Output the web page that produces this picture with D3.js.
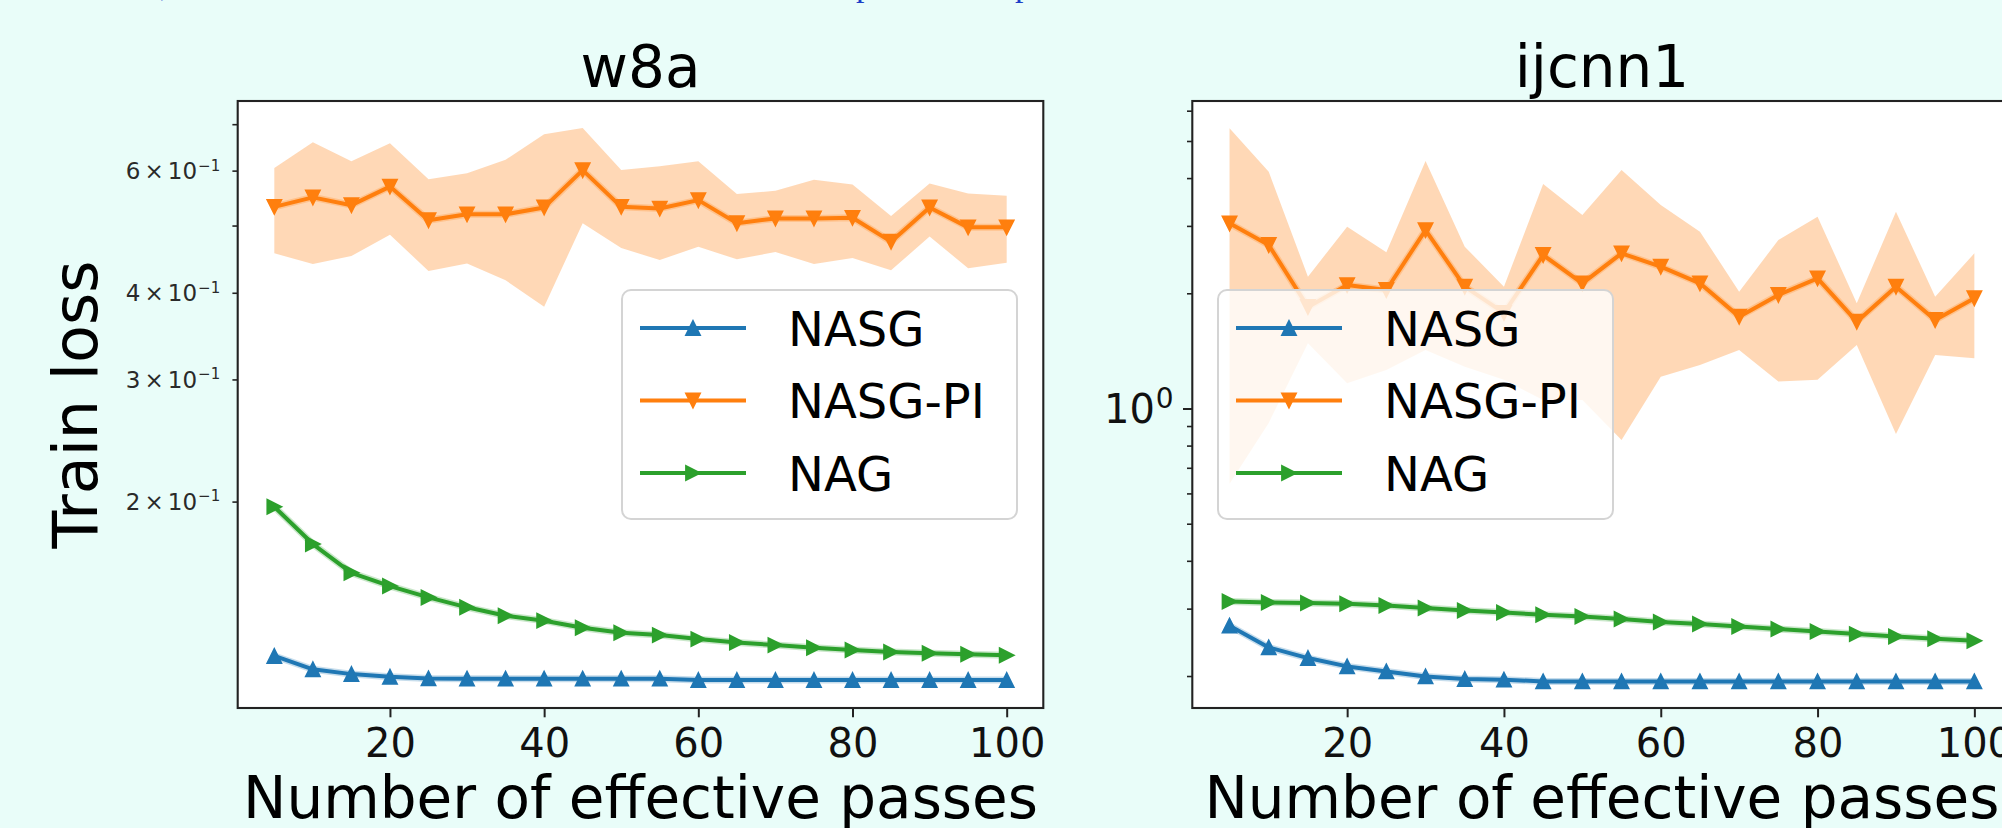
<!DOCTYPE html>
<html>
<head>
<meta charset="utf-8">
<script src="https://cdn.jsdelivr.net/npm/d3@7/dist/d3.min.js"></script>
<style>
  html, body { margin: 0; padding: 0; background: #e9fdf9; overflow: hidden; }
  svg { display: block; font-family: 'DejaVu Sans', sans-serif; }
</style>
</head>
<body>
<div id="vis"></div>
<script>
// x values: number of effective passes
var passes = [5, 10, 15, 20, 25, 30, 35, 40, 45, 50, 55, 60, 65, 70, 75, 80, 85, 90, 95, 100];
var xTicks = [20, 40, 60, 80, 100];
var seriesNames = ['NASG', 'NASG-PI', 'NAG'];

// w8a train loss
var w8aNasg = [0.1198, 0.1146, 0.1128, 0.1118, 0.1112, 0.1111, 0.1111, 0.1111, 0.1111, 0.1111,
  0.1111, 0.1106, 0.1106, 0.1106, 0.1106, 0.1106, 0.1106, 0.1106, 0.1106, 0.1106];
var w8aNasgPi = [0.532, 0.549, 0.535, 0.569, 0.509, 0.519, 0.519, 0.531, 0.601, 0.532,
  0.529, 0.544, 0.504, 0.512, 0.512, 0.513, 0.474, 0.531, 0.497, 0.497];
var w8aNasgPiHi = [0.605, 0.659, 0.619, 0.657, 0.583, 0.595, 0.622, 0.677, 0.691, 0.601,
  0.609, 0.619, 0.555, 0.561, 0.582, 0.573, 0.516, 0.575, 0.556, 0.552];
var w8aNasgPiLo = [0.456, 0.440, 0.452, 0.485, 0.430, 0.441, 0.417, 0.382, 0.504, 0.464,
  0.446, 0.466, 0.447, 0.458, 0.440, 0.449, 0.431, 0.482, 0.434, 0.442];
var w8aNag = [0.1966, 0.1737, 0.1579, 0.1511, 0.1455, 0.1408, 0.1369, 0.1347, 0.1316, 0.1294,
  0.1284, 0.1267, 0.1253, 0.1242, 0.1231, 0.1222, 0.1214, 0.1209, 0.1205, 0.1201];
var w8aMinorTicks = [0.2, 0.3, 0.4, 0.5, 0.6, 0.7];
var w8aTickLabels = [[0.2, '2'], [0.3, '3'], [0.4, '4'], [0.6, '6']];

// ijcnn1 train loss
var ijNasg = [0.2707, 0.2375, 0.2228, 0.2119, 0.2056, 0.1995, 0.1964, 0.1956, 0.1936, 0.1936,
  0.1936, 0.1936, 0.1936, 0.1936, 0.1936, 0.1936, 0.1936, 0.1936, 0.1936, 0.1936];
var ijNasgPi = [3.046, 2.674, 1.842, 2.102, 2.04, 2.926, 2.081, 1.777, 2.518, 2.124,
  2.544, 2.347, 2.124, 1.738, 1.98, 2.189, 1.686, 2.081, 1.703, 1.941];
var ijNasgPiHi = [5.395, 4.155, 2.21, 2.985, 2.559, 4.431, 2.647, 2.081, 3.858, 3.202,
  4.198, 3.401, 2.897, 2.02, 2.756, 3.17, 1.884, 3.267, 1.96, 2.544];
var ijNasgPiLo = [0.636, 0.917, 1.481, 1.164, 1.261, 1.422, 1.286, 1.188, 1.053, 1.053,
  0.828, 1.211, 1.3, 1.422, 1.176, 1.188, 1.466, 0.858, 1.38, 1.353];
var ijNag = [0.3132, 0.3113, 0.3102, 0.3089, 0.3058, 0.3010, 0.2967, 0.2931, 0.2891, 0.2862,
  0.2818, 0.2767, 0.2734, 0.2695, 0.2653, 0.2615, 0.2574, 0.2537, 0.2502, 0.2472];
var ijMinorTicks = [0.2, 0.3, 0.4, 0.5, 0.6, 0.7, 0.8, 0.9, 2, 3, 4, 5, 6];

var width = 2002;
var height = 828;
var colors = { 'NASG': '#1f77b4', 'NASG-PI': '#ff7f0e', 'NAG': '#2ca02c' };
var markerDir = { 'NASG': 'up', 'NASG-PI': 'down', 'NAG': 'right' };

var svg = d3.select('#vis').append('svg')
  .attr('width', width)
  .attr('height', height);

// bits of the page text line above the figure, cut by the screenshot
var topText = svg.append('g')
  .style('font-family', "'Liberation Serif', serif")
  .style('font-size', '34px')
  .attr('fill', '#1c3fc8');
topText.append('text').attr('x', 160).attr('y', -4).text(',');
topText.append('text').attr('x', 856).attr('y', -4.4).text('p');
topText.append('text').attr('x', 1015).attr('y', -4.4).text('p');

// matplotlib-like triangle marker, half size s
function marker(dir, s) {
  if (dir === 'up') {
    return 'M0,' + (-s) + 'L' + (-s) + ',' + s + 'L' + s + ',' + s + 'Z';
  }
  if (dir === 'down') {
    return 'M0,' + s + 'L' + (-s) + ',' + (-s) + 'L' + s + ',' + (-s) + 'Z';
  }
  return 'M' + s + ',0L' + (-s) + ',' + (-s) + 'L' + (-s) + ',' + s + 'Z';
}

/*
 * one panel: frame, shaded band, three lines, axes, legend
 */
function lossPanel(opts) {
  var g = svg.append('g');

  var x = d3.scaleLinear()
    .domain([0.25, 104.75])
    .range([opts.left, opts.right]);

  var y = d3.scaleLog()
    .domain(opts.yDomain)
    .range([opts.bottom, opts.top]);

  var clipId = 'clip-' + opts.id;
  g.append('clipPath').attr('id', clipId)
    .append('rect')
    .attr('x', opts.left).attr('y', opts.top)
    .attr('width', opts.right - opts.left)
    .attr('height', opts.bottom - opts.top);

  g.append('rect')
    .attr('x', opts.left).attr('y', opts.top)
    .attr('width', opts.right - opts.left)
    .attr('height', opts.bottom - opts.top)
    .attr('fill', 'white');

  var plot = g.append('g').attr('clip-path', 'url(#' + clipId + ')');

  // NASG-PI spread
  var area = d3.area()
    .x(function (d, i) { return x(passes[i]); })
    .y0(function (d, i) { return y(opts.piLo[i]); })
    .y1(function (d, i) { return y(opts.piHi[i]); });

  plot.append('path')
    .datum(opts.piHi)
    .attr('d', area)
    .attr('fill', '#ff7f0e')
    .attr('fill-opacity', 0.3);

  var line = d3.line()
    .x(function (d, i) { return x(passes[i]); })
    .y(function (d) { return y(d); });

  seriesNames.forEach(function (name) {
    var values = opts.series[name];
    var c = colors[name];

    // faint halo from the tiny spread of these runs
    plot.append('path')
      .datum(values)
      .attr('d', line)
      .attr('fill', 'none')
      .attr('stroke', c)
      .attr('stroke-opacity', 0.25)
      .attr('stroke-width', 7);

    plot.append('path')
      .datum(values)
      .attr('d', line)
      .attr('fill', 'none')
      .attr('stroke', c)
      .attr('stroke-width', 4)
      .attr('stroke-linejoin', 'round');

    plot.selectAll('.m-' + name)
      .data(values)
      .enter().append('path')
      .attr('transform', function (d, i) { return 'translate(' + x(passes[i]) + ',' + y(d) + ')'; })
      .attr('d', marker(markerDir[name], 7))
      .attr('fill', c)
      .attr('stroke', c)
      .attr('stroke-width', 1.8)
      .attr('stroke-linejoin', 'miter');
  });

  // frame
  g.append('rect')
    .attr('x', opts.left).attr('y', opts.top)
    .attr('width', opts.right - opts.left)
    .attr('height', opts.bottom - opts.top)
    .attr('fill', 'none')
    .attr('stroke', '#222')
    .attr('stroke-width', 2.1);

  // x axis
  var xAxis = g.append('g')
    .attr('transform', 'translate(0,' + opts.bottom + ')')
    .call(d3.axisBottom(x).tickValues(xTicks).tickSize(9.3).tickPadding(11.3).tickFormat(d3.format('d')));
  xAxis.select('.domain').remove();
  xAxis.selectAll('line').attr('stroke', '#222').attr('stroke-width', 2);
  xAxis.selectAll('text')
    .attr('fill', '#111')
    .style('font-family', "'DejaVu Sans', sans-serif")
    .style('font-size', '40px');

  // y minor ticks
  var yMinor = g.append('g')
    .attr('transform', 'translate(' + opts.left + ',0)')
    .call(d3.axisLeft(y).tickValues(opts.minorTicks).tickSize(5.3).tickFormat(''));
  yMinor.select('.domain').remove();
  yMinor.selectAll('line').attr('stroke', '#222').attr('stroke-width', 1.6);

  if (opts.majorTicks) {
    var yMajor = g.append('g')
      .attr('transform', 'translate(' + opts.left + ',0)')
      .call(d3.axisLeft(y).tickValues(opts.majorTicks).tickSize(9.3).tickFormat(''));
    yMajor.select('.domain').remove();
    yMajor.selectAll('line').attr('stroke', '#222').attr('stroke-width', 2);

    opts.majorTicks.forEach(function (v) {
      var t = g.append('text')
        .attr('x', opts.left - 18.6)
        .attr('y', y(v) + 14.5)
        .attr('text-anchor', 'end')
        .attr('fill', '#111')
        .style('font-size', '40px');
      t.append('tspan').text('10');
      t.append('tspan').attr('dx', 1).attr('dy', -15).style('font-size', '28px').text('0');
    });
  }

  if (opts.minorLabels) {
    opts.minorLabels.forEach(function (p) {
      var t = g.append('text')
        .attr('x', opts.left - 17.5)
        .attr('y', y(p[0]) + 8.3)
        .attr('text-anchor', 'end')
        .attr('fill', '#2a2a2a')
        .style('font-size', '23px');
      t.append('tspan').text(p[1]);
      t.append('tspan').attr('dx', 4).text('\u00d7');
      t.append('tspan').attr('dx', 4).text('10');
      t.append('tspan').attr('dx', 1).attr('dy', -8.4).style('font-size', '15px').text('\u22121');
    });
  }

  // title and axis labels
  var cx = (opts.left + opts.right) / 2;
  g.append('text')
    .attr('x', cx).attr('y', 87)
    .attr('text-anchor', 'middle')
    .style('font-size', '58px')
    .text(opts.title);

  g.append('text')
    .attr('x', cx).attr('y', 818)
    .attr('text-anchor', 'middle')
    .style('font-size', '58px')
    .text('Number of effective passes');

  if (opts.yLabel) {
    g.append('text')
      .attr('transform', 'translate(97,' + ((opts.top + opts.bottom) / 2) + ') rotate(-90)')
      .attr('text-anchor', 'middle')
      .style('font-size', '62px')
      .text(opts.yLabel);
  }

  // legend
  var lg = g.append('g')
    .attr('transform', 'translate(' + opts.legendX + ',290)');

  lg.append('rect')
    .attr('width', 395)
    .attr('height', 229)
    .attr('rx', 9)
    .attr('fill', 'white')
    .attr('fill-opacity', 0.8)
    .attr('stroke', '#d4d4d4')
    .attr('stroke-width', 2);

  seriesNames.forEach(function (name, i) {
    var ry = 38 + i * 72.5;
    var c = colors[name];
    lg.append('line')
      .attr('x1', 18).attr('x2', 124)
      .attr('y1', ry).attr('y2', ry)
      .attr('stroke', c)
      .attr('stroke-width', 4);
    lg.append('path')
      .attr('transform', 'translate(71,' + ry + ')')
      .attr('d', marker(markerDir[name], 7))
      .attr('fill', c)
      .attr('stroke', c)
      .attr('stroke-width', 1.8);
    lg.append('text')
      .attr('x', 166)
      .attr('y', ry + 17.5)
      .style('font-size', '48px')
      .text(name);
  });
}

lossPanel({
  id: 'w8a',
  title: 'w8a',
  yLabel: 'Train loss',
  left: 237.7, right: 1043.3, top: 101, bottom: 708,
  yDomain: [0.1008, 0.756],
  minorTicks: w8aMinorTicks,
  minorLabels: w8aTickLabels,
  series: { 'NASG': w8aNasg, 'NASG-PI': w8aNasgPi, 'NAG': w8aNag },
  piHi: w8aNasgPiHi,
  piLo: w8aNasgPiLo,
  legendX: 622
});

lossPanel({
  id: 'ijcnn1',
  title: 'ijcnn1',
  left: 1192.3, right: 2011.6, top: 101, bottom: 708,
  yDomain: [0.165, 6.36],
  minorTicks: ijMinorTicks,
  majorTicks: [1],
  series: { 'NASG': ijNasg, 'NASG-PI': ijNasgPi, 'NAG': ijNag },
  piHi: ijNasgPiHi,
  piLo: ijNasgPiLo,
  legendX: 1218
});
</script>
</body>
</html>
